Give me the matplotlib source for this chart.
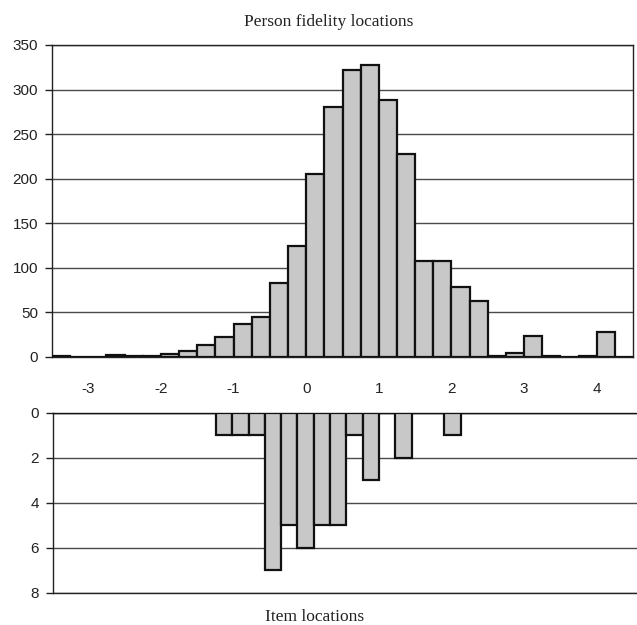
import numpy as np
import matplotlib
matplotlib.use("Agg")
import matplotlib.pyplot as plt

# ---- data ----
bin_width = 0.25
person_start = -3.5
person_counts = [1, 0, 0, 2, 1, 1, 3, 7, 14, 22, 37, 45, 83, 124, 205, 280,
                 322, 328, 288, 228, 108, 108, 79, 63, 1, 4, 24, 1, 0, 1, 28, 0]
person_xticks = [-3, -2, -1, 0, 1, 2, 3, 4]
person_yticks = [0, 50, 100, 150, 200, 250, 300, 350]

item_start = -3.5
item_counts = [0, 0, 0, 0, 0, 0, 0, 0, 0, 0, 1, 1, 1, 7, 5, 6, 5, 5, 1, 3,
               0, 2, 0, 0, 1, 0, 0, 0, 0, 0, 0, 0, 0, 0, 0, 0]
item_yticks = [0, 2, 4, 6, 8]

title_top = "Person fidelity locations"
title_bottom = "Item locations"

# ---- style ----
sans = ["Liberation Sans", "DejaVu Sans"]
serif = ["Liberation Serif", "DejaVu Serif"]
bar_face = "#c8c8c8"
grid_col = "#4a4a4a"
tick_fs = 11

fig = plt.figure(figsize=(6.37, 6.25), dpi=100)

# top histogram
ax1 = fig.add_axes([52 / 637, 1 - 357 / 625, (633 - 52) / 637, (357 - 45) / 625])
p_left = person_start + bin_width * np.arange(len(person_counts))
ax1.bar(p_left, person_counts, width=bin_width, align="edge",
        color=bar_face, edgecolor="#111111", linewidth=1.6, zorder=3)
ax1.set_xlim(-3.5, 4.5)
ax1.set_ylim(0, 350)
ax1.set_yticks(person_yticks)
ax1.set_xticks(person_xticks)
ax1.set_xticklabels([str(v) for v in person_xticks])
ax1.yaxis.grid(True, color=grid_col, linewidth=1.0, zorder=0)
ax1.set_axisbelow(True)
for s in ax1.spines.values():
    s.set_color("#222222")
    s.set_linewidth(1.0)
ax1.tick_params(axis="x", length=0, pad=18)
ax1.tick_params(axis="y", length=5, width=1.0, pad=5, color="#222222")
for lab in ax1.get_xticklabels() + ax1.get_yticklabels():
    lab.set_fontfamily(sans)
    lab.set_fontsize(tick_fs)
    lab.set_color("#222222")

# bottom histogram (inverted)
ax2 = fig.add_axes([52.7 / 637, 1 - 592.5 / 625, 1.005 - 52.7 / 637, (592.5 - 412.7) / 625])
i_left = item_start + bin_width * np.arange(len(item_counts))
ax2.bar(i_left, item_counts, width=bin_width, align="edge",
        color=bar_face, edgecolor="#111111", linewidth=1.6, zorder=3)
ax2.set_xlim(item_start, item_start + bin_width * len(item_counts))
ax2.set_ylim(8, 0)
ax2.set_yticks(item_yticks)
ax2.set_xticks([])
ax2.yaxis.grid(True, color=grid_col, linewidth=1.0, zorder=0)
ax2.set_axisbelow(True)
ax2.spines["right"].set_visible(False)
for k in ["left", "top", "bottom"]:
    ax2.spines[k].set_color("#222222")
    ax2.spines[k].set_linewidth(1.0)
ax2.tick_params(axis="y", length=5, width=1.0, pad=5, color="#222222")
for lab in ax2.get_yticklabels():
    lab.set_fontfamily(sans)
    lab.set_fontsize(tick_fs)
    lab.set_color("#222222")

fig.text(329 / 637, 1 - 22 / 625, title_top, ha="center", va="center",
         family=serif, fontsize=12.5, color="#222222")
fig.text(314.5 / 637, 1 - 617 / 625, title_bottom, ha="center", va="center",
         family=serif, fontsize=12.5, color="#222222")

fig.savefig("out.png", dpi=100)
